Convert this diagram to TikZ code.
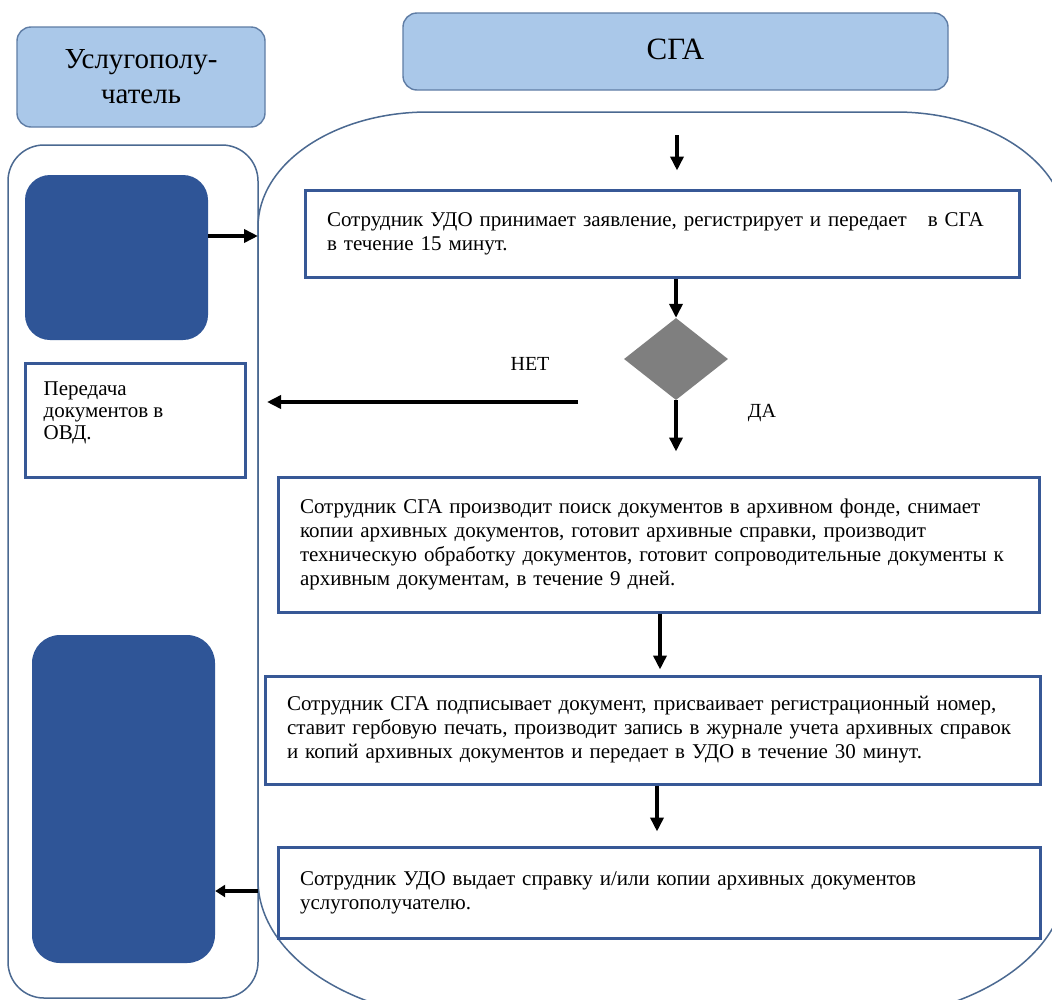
\documentclass[tikz,border=0pt]{standalone}
\usepackage{fontspec}
\setmainfont{Liberation Serif}
\newfontfamily\tnr{Liberation Serif}
\usetikzlibrary{arrows.meta,shapes.geometric}
\definecolor{hdrfill}{RGB}{170,200,233}
\definecolor{hdrdraw}{RGB}{95,125,165}
\definecolor{darkblue}{RGB}{47,85,151}
\definecolor{boxblue}{RGB}{55,88,150}
\definecolor{lanecol}{RGB}{75,105,145}
\definecolor{diagray}{RGB}{127,127,127}
\tikzset{
  hdr/.style={draw=hdrdraw, line width=1.4pt, fill=hdrfill, rounded corners=14pt, align=center, inner sep=0pt, font=\tnr\fontsize{29}{35}\selectfont},
  lane/.style={draw=lanecol, line width=1.5pt},
  darkbox/.style={fill=darkblue, draw=none, inner sep=0pt},
  procbox/.style={draw=boxblue, line width=3pt, fill=white, align=left, inner xsep=22pt, inner ysep=0pt, font=\tnr\fontsize{21}{24}\selectfont},
  boxtext/.style={inner sep=0pt, align=left, anchor=north west, font=\tnr\fontsize{21}{22}\selectfont},
  arr/.style={draw=black, line width=3.6pt, -{Triangle[length=14pt,width=13pt]}},
  lbl/.style={inner sep=0pt, font=\tnr\fontsize{20}{22}\selectfont},
}
\begin{document}
\begin{tikzpicture}[x=1pt,y=1pt]
\clip (0,0) rectangle (1052,-999);
\fill[white] (0,0) rectangle (1052,-999);
% lanes
\draw[lane, rounded corners=36pt] (8,-145) rectangle (258,-998);
\draw[lane] (258,-880) -- (258,-227)
  arc[start angle=180, end angle=90, x radius=170, y radius=115] -- (896,-112)
  arc[start angle=90, end angle=0, x radius=170, y radius=115] -- (1066,-880)
  arc[start angle=0, end angle=-90, x radius=220, y radius=140] -- (478,-1020)
  arc[start angle=-90, end angle=-180, x radius=220, y radius=140] -- cycle;
% headers
\node[hdr, minimum width=248pt, minimum height=100pt] (hU) at (141,-77) {Услугополу-\\чатель};
\node[hdr, minimum width=545pt, minimum height=77pt, font=\tnr\fontsize{31}{35}\selectfont] (hS) at (675.5,-51.5) {\raisebox{5pt}{СГА}};
% left lane shapes
\node[darkbox, rounded corners=25pt, minimum width=183pt, minimum height=165pt] (u1) at (116.5,-257.5) {};
\node[darkbox, rounded corners=28pt, minimum width=183pt, minimum height=328pt] (u2) at (123.5,-799) {};
\node[procbox, minimum width=220pt, minimum height=114pt] (ovd) at (135,-420) {};
\node[boxtext] (ovdtext) at ([xshift=20pt,yshift=-20pt]ovd.north west) {Передача\\документов в\\ОВД.};
% process boxes
\node[procbox, text width=670pt, minimum height=87pt] (b1) at (662,-233.5) {Сотрудник УДО принимает заявление, регистрирует и передает~~~в СГА\\в течение 15 минут.};
\node[diamond, fill=diagray, draw=none, aspect=1.268, minimum width=104pt, minimum height=82pt, inner sep=0pt] (dia) at (676,-359) {};
\node[procbox, text width=717pt, minimum height=135pt] (b2) at (658.5,-544.5) {Сотрудник СГА производит поиск документов в архивном фонде, снимает\\копии архивных документов, готовит архивные справки, производит\\техническую обработку документов, готовит сопроводительные документы к\\архивным документам, в течение 9~дней.};
\node[procbox, text width=731pt, minimum height=108pt] (b3) at (652.5,-730) {Сотрудник СГА подписывает документ, присваивает регистрационный номер,\\ставит гербовую печать, производит запись в журнале учета архивных справок\\и копий архивных документов и передает в УДО в течение 30 минут.};
\node[procbox, text width=718pt, minimum height=91pt] (b4) at (659,-892.5) {Сотрудник УДО выдает справку и/или копии архивных документов\\услугополучателю.};
% labels
\node[lbl] (net) at (530,-364) {НЕТ};
\node[lbl] (da) at (762,-413) {ДА};
% coordinates
\coordinate (t0) at (677,-135);
\coordinate (e1) at (258,-236);
\coordinate (e2) at (258,-891);
\coordinate (n0) at (578,-402);
\coordinate (n1) at (267,-402);
% connectors
\draw[arr] (t0) -- ([yshift=18pt]t0 |- b1.north);
\draw[arr] (b1.south -| dia.north) -- (dia.north);
\draw[arr, shorten >=24pt] (dia.south) -- (dia.south |- b2.north);
\draw[arr, shorten >=5pt] ([xshift=1.5pt]b2.south) -- ([xshift=1.5pt]b2.south |- b3.north);
\draw[arr, shorten >=14pt] ([xshift=4.5pt]b3.south) -- ([xshift=4.5pt]b3.south |- b4.north);
\draw[arr] (u1.east |- e1) -- (e1);
\draw[arr] (n0) -- (n1);
\draw[arr, -{Triangle[length=10pt,width=12pt]}] (e2) -- (u2.east |- e2);
\end{tikzpicture}
\end{document}
